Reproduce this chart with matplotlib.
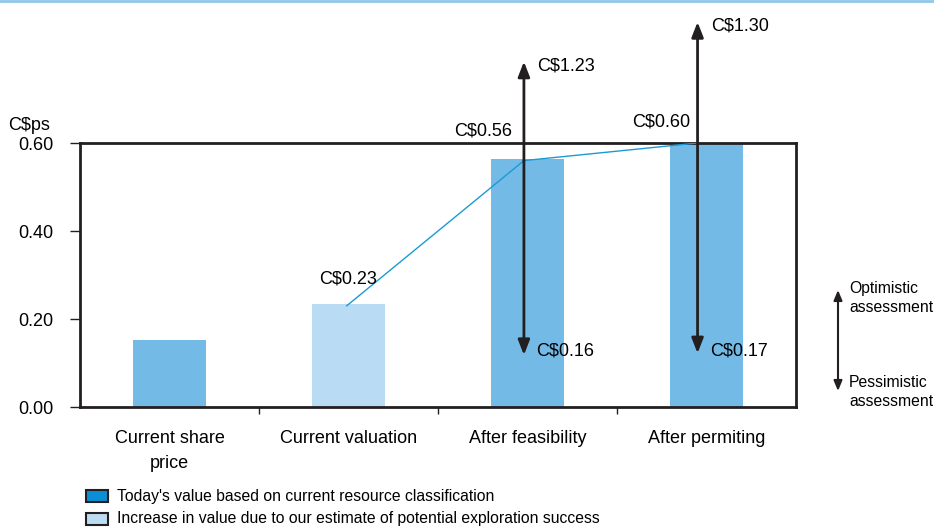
import matplotlib
matplotlib.use("Agg")
import matplotlib.pyplot as plt
from matplotlib.patches import Rectangle
from matplotlib.lines import Line2D

plt.rcParams['font.family'] = ['Liberation Sans', 'DejaVu Sans']
FS = 13
FS_S = 11.3

categories = ["Current share\nprice", "Current valuation", "After feasibility", "After permiting"]
today_values = [0.152, 0.0, 0.564, 0.60]
increase_values = [0.0, 0.234, 0.0, 0.0]
trend_values = [0.23, 0.56, 0.60]
value_labels = ["C$0.23", "C$0.56", "C$0.60"]
optimistic_labels = ["C$1.23", "C$1.30"]
pessimistic_labels = ["C$0.16", "C$0.17"]
yticks = [0.0, 0.2, 0.4, 0.6]
ytick_labels = ["0.00", "0.20", "0.40", "0.60"]
legend_labels = ["Today's value based on current resource classification",
                 "Increase in value due to our estimate of potential exploration success"]

c_bar = "#74bae7"
c_light = "#b9dbf3"
c_line = "#1a9ad6"
c_dark = "#231f20"

fig = plt.figure(figsize=(9.34, 5.28), dpi=100)
ax = fig.add_axes([80/934, 1-407/528, 716/934, 264/528])

x = list(range(len(categories)))
ax.bar(x, today_values, width=0.41, color=c_bar, zorder=2)
ax.bar(x, increase_values, width=0.41, color=c_light, zorder=2)

# trend line
line_x = [0.99, 1.98, 2.95]
ax.plot(line_x, trend_values, color=c_line, lw=1.0, zorder=3)

ax.set_xlim(-0.5, 3.5)
ax.set_ylim(0, 0.6)
ax.set_yticks(yticks)
ax.set_yticklabels(ytick_labels, fontsize=FS)
ax.set_xticks([0.5, 1.5, 2.5])
ax.set_xticklabels([])
ax.tick_params(axis='x', direction='out', length=5, width=1, color=c_dark)
ax.tick_params(axis='y', direction='out', length=7, width=1, color=c_dark, pad=12)
for s in ax.spines.values():
    s.set_linewidth(2)
    s.set_color(c_dark)
for i, c in enumerate(categories):
    ax.text(i, -0.053, c, ha='center', va='top', fontsize=FS, linespacing=1.62,
            transform=ax.transData)

fig.text(8/934, 1-125/528, "C$ps", fontsize=FS, ha='left', va='center')

# value labels
ax.text(1.0, 0.291, value_labels[0], ha='center', va='center', fontsize=FS)
ax.text(1.751, 0.627, value_labels[1], ha='center', va='center', fontsize=FS, clip_on=False)
ax.text(2.746, 0.648, value_labels[2], ha='center', va='center', fontsize=FS, clip_on=False)

# arrows for scenarios
arrow_x = [1.98, 2.95]
arrow_top = [0.785, 0.875]
arrow_bot = [0.118, 0.122]
for ax_x, base, top, bot, ol, pl in zip(arrow_x, trend_values[1:], arrow_top, arrow_bot,
                                         optimistic_labels, pessimistic_labels):
    ax.annotate("", xy=(ax_x, top), xytext=(ax_x, base), annotation_clip=False,
                arrowprops=dict(arrowstyle='-|>,head_length=0.9,head_width=0.35', color=c_dark,
                                lw=2, shrinkA=0, shrinkB=0), zorder=4)
    ax.annotate("", xy=(ax_x, bot), xytext=(ax_x, base), annotation_clip=False,
                arrowprops=dict(arrowstyle='-|>,head_length=0.9,head_width=0.35', color=c_dark,
                                lw=2, shrinkA=0, shrinkB=0), zorder=4)
    ax.text(ax_x + 0.075, top - 0.01, ol, ha='left', va='center', fontsize=FS, clip_on=False)
    ax.text(ax_x + 0.07, 0.128, pl, ha='left', va='center', fontsize=FS, clip_on=False)

# right side key
ax.annotate("", xy=(838/934, 1-290/528), xytext=(838/934, 1-391/528), xycoords='figure fraction',
            textcoords='figure fraction',
            arrowprops=dict(arrowstyle='<|-|>,head_length=0.6,head_width=0.25', color=c_dark,
                            lw=1.5, shrinkA=0, shrinkB=0))
fig.text(849/934, 1-298/528, "Optimistic\nassessment", fontsize=FS_S, ha='left', va='center', linespacing=1.3)
fig.text(849/934, 1-392/528, "Pessimistic\nassessment", fontsize=FS_S, ha='left', va='center', linespacing=1.3)

# legend
fig.add_artist(Rectangle((86/934, 1-502/528), 22/934, 12/528, transform=fig.transFigure,
                         facecolor="#0a8fd6", edgecolor=c_dark, lw=1.5))
fig.add_artist(Rectangle((86/934, 1-525/528), 22/934, 12/528, transform=fig.transFigure,
                         facecolor="#bcdcf3", edgecolor=c_dark, lw=1.5))
fig.text(117/934, 1-496/528, legend_labels[0], fontsize=FS_S, ha='left', va='center')
fig.text(117/934, 1-519/528, legend_labels[1], fontsize=FS_S, ha='left', va='center')

# top rule
fig.add_artist(Line2D([0, 1], [1-0.8/528, 1-0.8/528], transform=fig.transFigure,
                      color="#8ec8ea", lw=2))

fig.savefig("out.png", dpi=100)
